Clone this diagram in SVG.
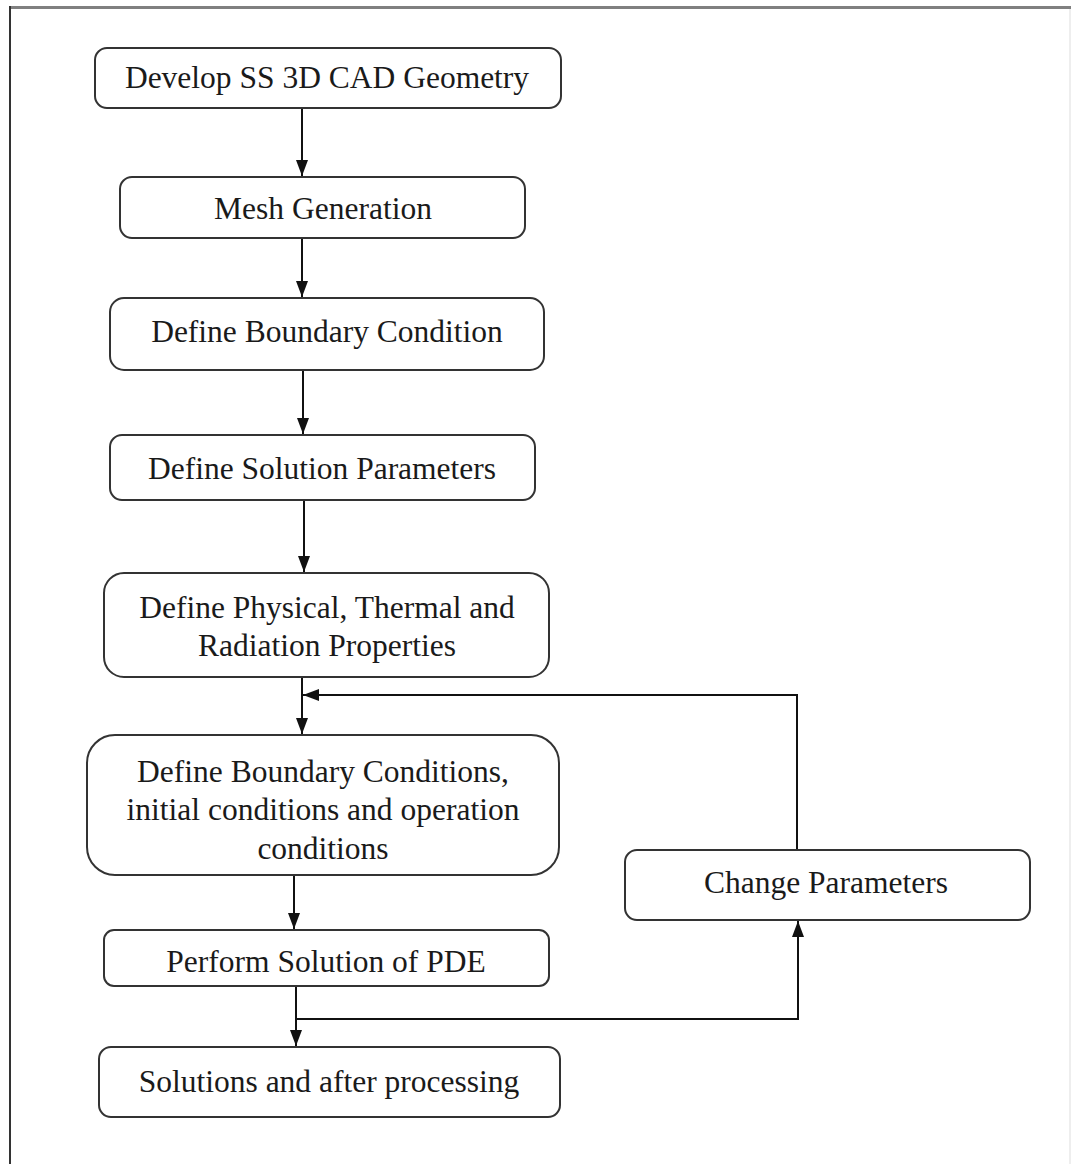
<svg xmlns="http://www.w3.org/2000/svg" width="1071" height="1164" viewBox="0 0 1071 1164">
<defs>
<style>
.box{fill:#fff;stroke:#333;stroke-width:2}
.t{font-family:"Liberation Serif","Times New Roman",serif;font-size:31.5px;fill:#1a1a1a;text-anchor:middle}
.c{fill:none;stroke:#111;stroke-width:2}
</style>
<marker id="ah" viewBox="0 0 16 14" refX="16" refY="7" markerWidth="16" markerHeight="14" markerUnits="userSpaceOnUse" orient="auto">
<path d="M0,1 L16,7 L0,13 Z" fill="#111"/>
</marker>
</defs>
<rect x="0" y="0" width="1071" height="1164" fill="#fff"/>
<g id="frame">
<line x1="9" y1="7.5" x2="1071" y2="7.5" stroke="#808080" stroke-width="3"/>
<line x1="10" y1="6" x2="10" y2="1164" stroke="#333" stroke-width="2"/>
<line x1="1070" y1="9" x2="1070" y2="1164" stroke="#ddd" stroke-width="1"/>
</g>
<g id="connectors">
<line class="c" x1="302" y1="108" x2="302" y2="176" marker-end="url(#ah)"/>
<line class="c" x1="302" y1="238" x2="302" y2="297" marker-end="url(#ah)"/>
<line class="c" x1="303" y1="370" x2="303" y2="434" marker-end="url(#ah)"/>
<line class="c" x1="304" y1="500" x2="304" y2="572" marker-end="url(#ah)"/>
<line class="c" x1="302" y1="677" x2="302" y2="734" marker-end="url(#ah)"/>
<polyline class="c" points="797,850 797,695 303,695" marker-end="url(#ah)"/>
<line class="c" x1="294" y1="875" x2="294" y2="929" marker-end="url(#ah)"/>
<line class="c" x1="296" y1="986" x2="296" y2="1046" marker-end="url(#ah)"/>
<polyline class="c" points="296,1019 798,1019 798,921" marker-end="url(#ah)"/>
</g>
<g id="n1"><rect class="box" x="95" y="48" width="466" height="60" rx="12"/><text class="t" x="327" y="88">Develop SS 3D CAD Geometry</text></g>
<g id="n2"><rect class="box" x="120" y="177" width="405" height="61" rx="12"/><text class="t" x="323" y="219">Mesh Generation</text></g>
<g id="n3"><rect class="box" x="110" y="298" width="434" height="72" rx="14"/><text class="t" x="327" y="342">Define Boundary Condition</text></g>
<g id="n4"><rect class="box" x="110" y="435" width="425" height="65" rx="12"/><text class="t" x="322" y="479">Define Solution Parameters</text></g>
<g id="n5"><rect class="box" x="104" y="573" width="445" height="104" rx="20"/><text class="t" x="327" y="618">Define Physical, Thermal and</text><text class="t" x="327" y="656">Radiation Properties</text></g>
<g id="n6"><rect class="box" x="87" y="735" width="472" height="140" rx="28"/><text class="t" x="323" y="782">Define Boundary Conditions,</text><text class="t" x="323" y="820">initial conditions and operation</text><text class="t" x="323" y="859">conditions</text></g>
<g id="n7"><rect class="box" x="104" y="930" width="445" height="56" rx="10"/><text class="t" x="326" y="972">Perform Solution of PDE</text></g>
<g id="n8"><rect class="box" x="99" y="1047" width="461" height="70" rx="12"/><text class="t" x="329" y="1092">Solutions and after processing</text></g>
<g id="n9"><rect class="box" x="625" y="850" width="405" height="70" rx="12"/><text class="t" x="826" y="893">Change Parameters</text></g>
</svg>
